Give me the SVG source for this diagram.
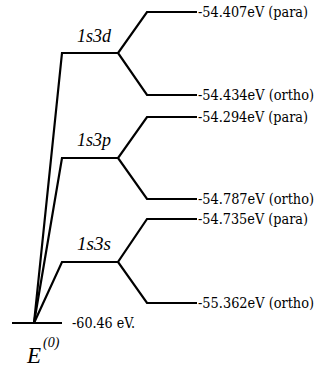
<svg xmlns="http://www.w3.org/2000/svg" width="321" height="368" viewBox="0 0 321 368">
<style>
.ln{fill:none;stroke:#000;stroke-width:2.2;stroke-linejoin:miter}
text{font-family:'Liberation Serif','Times New Roman',serif;fill:#000}
.lv{font-family:'DejaVu Serif Condensed','Liberation Serif',serif;font-size:14px}
.st{font-style:italic;font-size:18px}
.ei{font-style:italic}
</style>
<rect width="321" height="368" fill="#fff"/>
<g id="connectors">
<polyline class="ln" points="34,323 62,53 118,53"/>
<polyline class="ln" points="34,323 62,158 118,158"/>
<polyline class="ln" points="34,323 62,262 118,262"/>
<polyline class="ln" points="197,12 147,12 118,53 147,95 197,95"/>
<polyline class="ln" points="197,117 147,117 118,158 147,199 197,199"/>
<polyline class="ln" points="197,219 147,219 118,262 147,303 197,303"/>
</g>
<g id="ground">
<line class="ln" x1="12" y1="323" x2="62" y2="323"/>
<text class="lv" x="72" y="328" textLength="63" lengthAdjust="spacingAndGlyphs">-60.46 eV.</text>
<text class="ei" font-size="23" x="27" y="363">E</text>
<text class="ei" font-size="14" x="43" y="347">(0)</text>
</g>
<g id="n1s3d">
<text class="st" x="77" y="42" textLength="34" lengthAdjust="spacingAndGlyphs">1s3d</text>
</g>
<g id="n1s3p">
<text class="st" x="77" y="146" textLength="34" lengthAdjust="spacingAndGlyphs">1s3p</text>
</g>
<g id="n1s3s">
<text class="st" x="77" y="250" textLength="34" lengthAdjust="spacingAndGlyphs">1s3s</text>
</g>
<g id="d_para"><text class="lv" x="198" y="17" textLength="110" lengthAdjust="spacingAndGlyphs">-54.407eV (para)</text></g>
<g id="d_ortho"><text class="lv" x="198" y="100" textLength="116" lengthAdjust="spacingAndGlyphs">-54.434eV (ortho)</text></g>
<g id="p_para"><text class="lv" x="198" y="122" textLength="110" lengthAdjust="spacingAndGlyphs">-54.294eV (para)</text></g>
<g id="p_ortho"><text class="lv" x="198" y="204" textLength="116" lengthAdjust="spacingAndGlyphs">-54.787eV (ortho)</text></g>
<g id="s_para"><text class="lv" x="198" y="224" textLength="110" lengthAdjust="spacingAndGlyphs">-54.735eV (para)</text></g>
<g id="s_ortho"><text class="lv" x="198" y="308" textLength="116" lengthAdjust="spacingAndGlyphs">-55.362eV (ortho)</text></g>
</svg>
